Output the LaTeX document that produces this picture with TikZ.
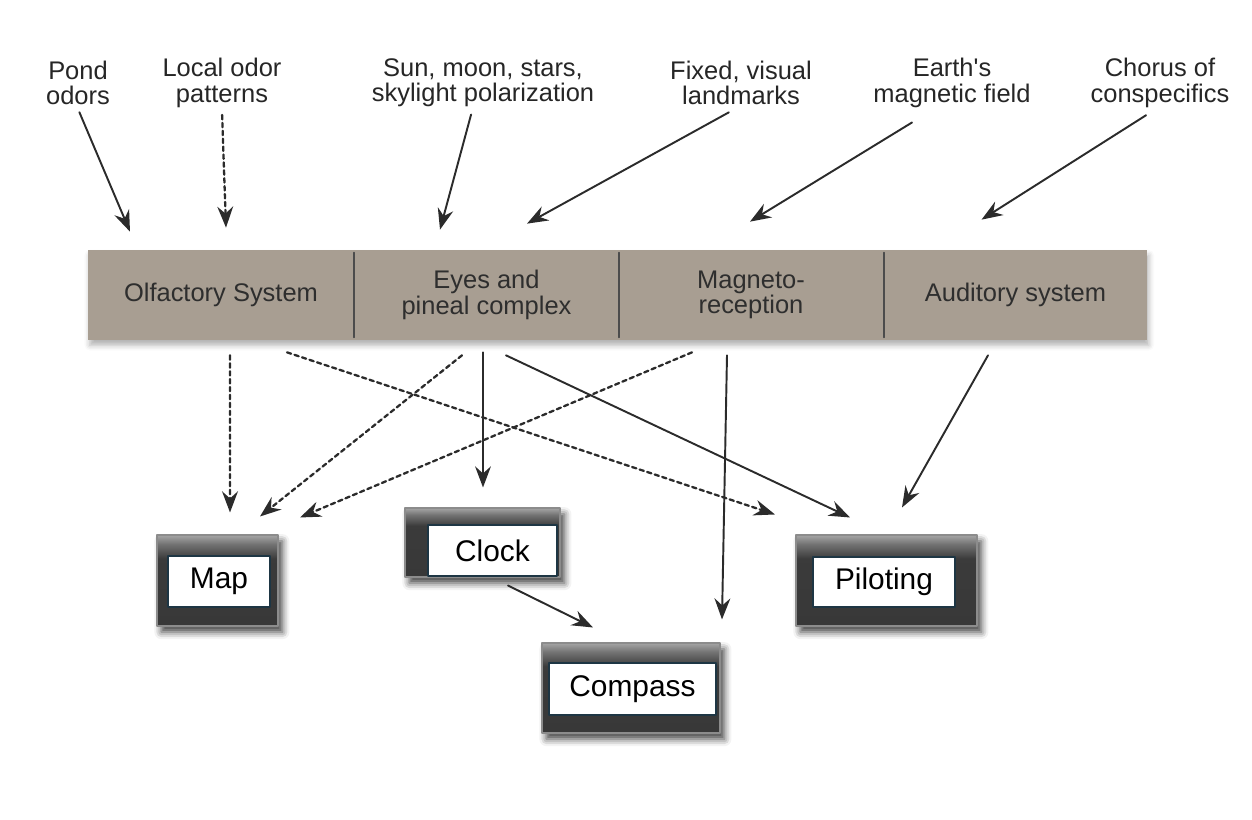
\documentclass[tikz,border=0pt]{standalone}
\usepackage{fontspec}
\setmainfont{Liberation Sans}
\usetikzlibrary{arrows.meta,calc,shadows.blur}
\definecolor{barc}{HTML}{A89E92}
\definecolor{linec}{HTML}{2B2B2B}
\definecolor{rimc}{HTML}{1E3644}
\pgfdeclareverticalshading{framesh}{100bp}{color(0bp)=(black!78); color(25bp)=(black!78); color(62bp)=(black!77); color(70bp)=(black!55); color(75bp)=(black!35); color(100bp)=(black!35)}
\begin{document}
\begin{tikzpicture}[x=0.02cm, y=-0.02cm, line join=round, line cap=round]
  \useasboundingbox (0,0) rectangle (1252,820);
  \tikzset{
    arr/.style={draw=linec, line width=1.1pt, -{Stealth[length=12pt,width=9pt,inset=4pt]}},
    darr/.style={arr, line width=1.3pt, dash pattern=on 2.5pt off 2pt},
    src/.style={align=center, inner sep=2pt, text=black!85, font=\fontsize{14.5}{14.5}\selectfont},
    sect/.style={minimum width=5.3cm, minimum height=1.8cm, inner sep=0pt, align=center, text=black!82, font=\fontsize{14.5}{14.5}\selectfont},
    frame/.style={draw=black!45, line width=0.6pt, shade, shading=framesh, blur shadow={shadow xshift=2.5pt, shadow yshift=-3.5pt, shadow blur radius=4pt, shadow opacity=75}},
    tag/.style={draw=rimc, line width=1pt, fill=white, inner sep=0pt, font=\fontsize{17}{17}\selectfont}
  }
  % inputs
  \node[src] (pond) at (78,83) {Pond\\odors};
  \node[src] (local) at (222,83) {Local odor\\patterns};
  \node[src] (sun) at (483,83) {Sun, moon, stars,\\skylight polarization};
  \node[src] (fixed) at (741,83) {Fixed, visual\\landmarks};
  \node[src] (earth) at (952,83) {Earth\textquotesingle s\\magnetic field};
  \node[src] (chorus) at (1160,83) {Chorus of\\conspecifics};
  % sensory bar
  \coordinate (barnw) at (88,250);
  \coordinate (barse) at (1147,340);
  \fill[barc, blur shadow={shadow xshift=1pt, shadow yshift=-3pt, shadow blur radius=3pt, shadow opacity=30}] (barnw) rectangle (barse);
  \node[sect] (olf) at (221,295) {Olfactory System};
  \node[sect] (eyes) at (486.5,295) {Eyes and\\pineal complex};
  \node[sect] (magn) at (751,295) {Magneto-\\reception};
  \node[sect] (aud) at (1015.5,295) {Auditory system};
  \foreach \s in {olf,eyes,magn}
    \draw[black!70, line width=1pt] ($(\s.north east)+(0,3)$) -- ($(\s.south east)+(0,-3)$);
  % mechanisms
  \node[frame, minimum width=2.42cm, minimum height=1.82cm] (map) at (217.5,580.5) {};
  \node[tag, minimum width=2.04cm, minimum height=1.02cm] (maptag) at (219,581.5) {Map};
  \node[frame, minimum width=3.1cm, minimum height=1.38cm] (clock) at (482.5,542.5) {};
  \node[tag, minimum width=2.58cm, minimum height=1.02cm] (clocktag) at (492.5,550.5) {Clock};
  \node[frame, minimum width=3.56cm, minimum height=1.8cm] (compass) at (631,688) {};
  \node[tag, minimum width=3.34cm, minimum height=1.04cm] (compasstag) at (632.5,689) {Compass};
  \node[frame, minimum width=3.62cm, minimum height=1.82cm] (pilot) at (886.5,580.5) {};
  \node[tag, minimum width=2.84cm, minimum height=1.0cm] (pilottag) at (884,582) {Piloting};
  % cues into the senses
  \draw[arr, shorten <=2pt] (pond.south) -- ($(olf.north)+(-91,-18)$);
  \draw[darr, shorten <=2pt] (local.south) -- ($(olf.north)+(5,-22)$);
  \draw[arr, shorten <=2pt] ($(sun.south)+(-11,0)$) -- ($(eyes.north)+(-46.5,-20)$);
  \draw[arr, shorten <=4pt] ($(fixed.south)+(-6,0)$) -- ($(eyes.north)+(40.5,-26)$);
  \draw[arr, shorten <=12pt] ($(earth.south)+(-22,0)$) -- ($(magn.north)+(-1,-28)$);
  \draw[arr, shorten <=4pt] ($(chorus.south)+(-8,0)$) -- ($(aud.north)+(-34,-30)$);
  % senses to mechanisms
  \draw[darr] ($(olf.south)+(9,15)$) -- ($(map.north)+(12.5,-22)$);
  \draw[darr] ($(olf.south)+(66,12)$) -- ($(pilot.north)+(-111.5,-20)$);
  \draw[darr] ($(eyes.south)+(-24.5,15)$) -- ($(map.north)+(42.5,-18)$);
  \draw[darr] ($(magn.south)+(-59,12)$) -- ($(map.north)+(82.5,-17)$);
  \draw[arr] ($(eyes.south)+(-3.5,12)$) -- ($(clock.north)+(0.5,-20)$);
  \draw[arr] ($(eyes.south)+(19.5,15)$) -- ($(pilot.north)+(-36.5,-17)$);
  \draw[arr] ($(magn.south)+(-24,15)$) -- ($(compass.north)+(91,-23)$);
  \draw[arr] ($(aud.south)+(-27.5,15)$) -- ($(pilot.north)+(15.5,-27)$);
  \draw[arr] ($(clock.south)+(25.5,8)$) -- ($(compass.north)+(-38,-15)$);
\end{tikzpicture}
\end{document}
